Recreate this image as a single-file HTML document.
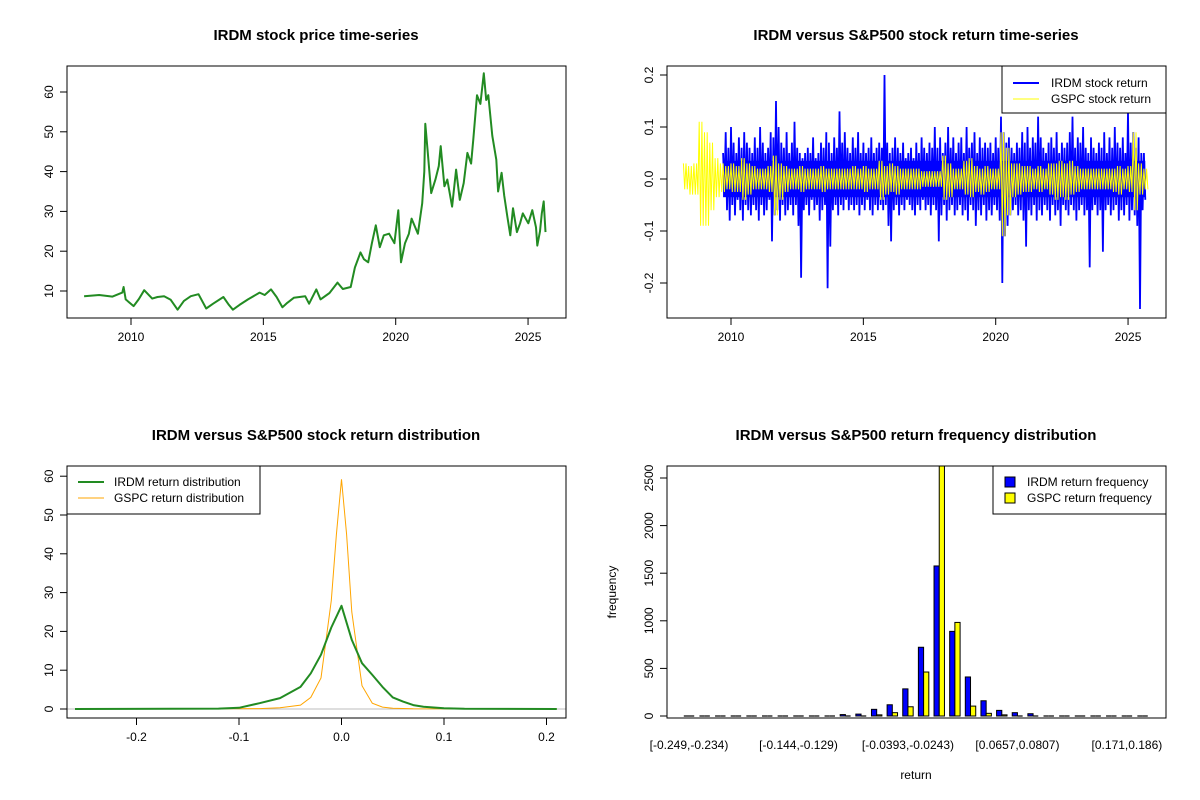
<!DOCTYPE html>
<html><head><meta charset="utf-8"><style>
body{margin:0;background:#fff}
svg{display:block;font-family:"Liberation Sans",Arial,sans-serif}
.t{font-size:12px;fill:#000}
.h{font-size:15px;font-weight:bold;fill:#000}
</style></head><body>
<svg id="c" width="1200" height="800" viewBox="0 0 1200 800">
<rect width="1200" height="800" fill="#fff"/>
</svg>
<script>
// ---- price data (year, price)
const priceYears=[2008.23,2008.8,2009.3,2009.67,2009.72,2009.8,2010.1,2010.3,2010.5,2010.8,2011.0,2011.25,2011.5,2011.76,2012.0,2012.26,2012.55,2012.84,2013.1,2013.49,2013.7,2013.85,2014.1,2014.42,2014.86,2015.05,2015.29,2015.5,2015.72,2015.9,2016.15,2016.58,2016.73,2017.0,2017.16,2017.5,2017.8,2018.0,2018.3,2018.46,2018.67,2018.8,2018.96,2019.1,2019.25,2019.4,2019.55,2019.75,2019.95,2020.1,2020.2,2020.35,2020.5,2020.6,2020.84,2021.0,2021.08,2021.12,2021.2,2021.34,2021.5,2021.63,2021.7,2021.84,2021.95,2022.13,2022.28,2022.42,2022.57,2022.71,2022.85,2022.93,2023.07,2023.2,2023.33,2023.42,2023.5,2023.65,2023.8,2023.87,2024.0,2024.1,2024.22,2024.33,2024.43,2024.58,2024.7,2024.8,2025.01,2025.16,2025.3,2025.35,2025.45,2025.52,2025.59,2025.66];
const priceValues=[8.7,9.0,8.6,9.6,11,7.9,6.2,8,10.2,8.1,8.5,8.7,7.8,5.3,7.5,8.7,9.2,5.6,6.8,8.5,6.5,5.3,6.5,7.9,9.6,9,10.4,8.5,5.9,7,8.3,8.7,6.8,10.4,7.9,9.5,12.1,10.5,11,15.9,19.7,18,17.2,22,26.5,21,24,24.4,22,30.3,17.2,22,24.4,28.2,24.4,32,40,52,45.6,34.6,38,41.4,46.4,36.3,38,31.2,40.5,32.9,37.1,44.7,42,48.1,59.2,57,64.7,58,59.2,49,43,35,39.7,34,28.6,24,30.8,24.8,27,29.5,27,30.3,26,21.4,25,29.5,32.5,24.8];
// ---- returns: IRDM hi/lo per 0.1yr from 2009.7
const irdmHi=[.05,.09,.06,.10,.07,.05,.08,.06,.09,.07,.06,.05,.08,.06,.10,.07,.05,.06,.09,.08,.15,.10,.07,.06,.09,.05,.07,.11,.06,.05,.04,.05,.06,.05,.08,.04,.05,.07,.06,.09,.07,.05,.08,.06,.13,.07,.09,.06,.05,.08,.06,.09,.05,.07,.05,.06,.08,.05,.06,.07,.06,.20,.07,.05,.06,.08,.06,.05,.07,.04,.05,.06,.04,.07,.05,.08,.06,.05,.07,.06,.10,.06,.08,.05,.07,.10,.06,.08,.05,.07,.08,.05,.10,.06,.07,.09,.05,.08,.06,.07,.06,.07,.05,.08,.06,.12,.09,.07,.08,.06,.05,.07,.06,.09,.07,.10,.06,.08,.07,.12,.08,.06,.05,.07,.08,.06,.09,.05,.07,.06,.07,.09,.12,.06,.08,.07,.10,.06,.05,.08,.06,.05,.07,.06,.09,.05,.08,.06,.10,.07,.06,.08,.05,.13,.07,.09,.06,.08,.05,.05];
const irdmLo=[-.03,-.06,-.08,-.05,-.07,-.04,-.06,-.08,-.05,-.06,-.07,-.05,-.06,-.08,-.05,-.07,-.06,-.04,-.12,-.07,-.06,-.08,-.05,-.07,-.06,-.05,-.07,-.05,-.09,-.19,-.06,-.05,-.07,-.04,-.06,-.05,-.08,-.06,-.05,-.21,-.13,-.06,-.05,-.07,-.05,-.06,-.04,-.06,-.05,-.06,-.05,-.07,-.05,-.06,-.04,-.06,-.07,-.05,-.06,-.05,-.06,-.05,-.09,-.12,-.06,-.05,-.07,-.05,-.06,-.04,-.05,-.06,-.07,-.05,-.06,-.04,-.06,-.05,-.07,-.05,-.06,-.12,-.07,-.05,-.08,-.06,-.05,-.07,-.06,-.05,-.07,-.06,-.08,-.05,-.06,-.09,-.06,-.07,-.05,-.08,-.06,-.07,-.05,-.06,-.08,-.20,-.11,-.09,-.07,-.06,-.05,-.07,-.06,-.08,-.13,-.06,-.07,-.05,-.08,-.06,-.07,-.05,-.06,-.08,-.05,-.07,-.06,-.09,-.05,-.06,-.07,-.05,-.06,-.08,-.06,-.05,-.07,-.06,-.17,-.06,-.05,-.07,-.06,-.14,-.06,-.05,-.07,-.06,-.05,-.08,-.06,-.07,-.05,-.08,-.06,-.07,-.09,-.25,-.06,-.04];
const irdmCore=0.035;
// GSPC hi/lo per 0.2yr from 2008.2
const gspcHi=[.03,.025,.03,.11,.09,.07,.04,.03,.025,.03,.025,.04,.03,.025,.02,.02,.025,.045,.03,.025,.02,.02,.025,.02,.02,.02,.025,.02,.02,.02,.02,.02,.025,.02,.025,.02,.02,.035,.025,.03,.025,.02,.02,.02,.02,.015,.015,.015,.015,.045,.03,.02,.02,.035,.04,.025,.02,.025,.02,.02,.09,.06,.03,.03,.025,.025,.02,.025,.02,.03,.03,.035,.03,.035,.025,.02,.02,.02,.02,.02,.02,.02,.025,.02,.025,.09,.03,.02];
const gspcLo=[-.02,-.03,-.03,-.09,-.09,-.06,-.035,-.025,-.02,-.025,-.025,-.04,-.03,-.02,-.02,-.02,-.025,-.07,-.04,-.025,-.02,-.02,-.025,-.02,-.02,-.02,-.025,-.02,-.02,-.02,-.02,-.02,-.02,-.02,-.025,-.02,-.02,-.04,-.03,-.025,-.03,-.02,-.02,-.02,-.02,-.015,-.015,-.015,-.015,-.04,-.035,-.02,-.02,-.03,-.035,-.025,-.03,-.025,-.02,-.02,-.11,-.07,-.035,-.03,-.025,-.025,-.02,-.025,-.02,-.03,-.04,-.035,-.04,-.03,-.025,-.02,-.02,-.02,-.02,-.02,-.02,-.025,-.03,-.02,-.025,-.06,-.03,-.02];
// ---- density
const densX=[-0.26,-0.12,-0.1,-0.08,-0.06,-0.04,-0.03,-0.02,-0.01,0,0.01,0.02,0.03,0.04,0.05,0.06,0.07,0.08,0.1,0.12,0.21];
const densIRDM=[0,0.1,0.3,1.5,2.8,5.7,9.2,14,21,26.6,17.8,11.8,8.8,5.7,3,1.9,1,0.6,0.2,0.05,0];
const densGX=[-0.26,-0.08,-0.06,-0.04,-0.03,-0.02,-0.01,-0.005,0,0.005,0.01,0.02,0.03,0.04,0.05,0.07,0.21];
const densGSPC=[0,0.1,0.3,1,3,8,28,45,59.2,45,25,6,1.5,0.5,0.2,0.05,0];
// ---- histogram
const histLabels=["[-0.249,-0.234)","[-0.144,-0.129)","[-0.0393,-0.0243)","[0.0657,0.0807)","[0.171,0.186)"];
const histLabelIdx=[0,7,14,21,28];
const histIRDM=[1,0,0,0,0,0,0,0,8,5,15,20,70,118,285,722,1576,889,410,160,59,35,24,10,8,3,5,2,1,1];
const histGSPC=[0,0,0,0,0,0,0,0,2,2,8,8,12,35,97,462,2900,983,104,28,12,10,8,5,3,1,2,1,0,0];

const NS="http://www.w3.org/2000/svg";
const svg=document.getElementById('c');
function mk(tag,attrs,parent){const e=document.createElementNS(NS,tag);for(const k in attrs)e.setAttribute(k,attrs[k]);(parent||svg).appendChild(e);return e;}
function txt(s,x,y,cls,anchor,rot,parent){const e=mk('text',{x:x,y:y,class:cls,'text-anchor':anchor||'middle'},parent);if(rot)e.setAttribute('transform','rotate(-90 '+x+' '+y+')');e.textContent=s;return e;}
function lin(x1,y1,x2,y2,parent){return mk('line',{x1:x1,y1:y1,x2:x2,y2:y2,stroke:'#000','stroke-width':1},parent);}
function frame(x,y,w,h,parent){return mk('rect',{x:x,y:y,width:w,height:h,fill:'none',stroke:'#000','stroke-width':1},parent);}
function xAxis(vals,labels,sx,yb,parent){lin(sx(vals[0]),yb,sx(vals[vals.length-1]),yb,parent);vals.forEach((v,i)=>{lin(sx(v),yb,sx(v),yb+7,parent);txt(labels[i],sx(v),yb+23,'t','middle',false,parent);});}
function yAxis(vals,labels,sy,xl,parent){lin(xl,sy(vals[0]),xl,sy(vals[vals.length-1]),parent);vals.forEach((v,i)=>{lin(xl-7,sy(v),xl,sy(v),parent);txt(labels[i],xl-14,sy(v),'t','middle',true,parent);});}

// ===== Panel 1: price
{
const g=mk('g',{});
const sx=v=>131+(v-2010)*26.47, sy=v=>291-(v-10)*3.98;
txt('IRDM stock price time-series',316,40,'h','middle',false,g);
const pts=priceYears.map((t,i)=>sx(t).toFixed(1)+','+sy(priceValues[i]).toFixed(1)).join(' ');
const pl=mk('polyline',{points:pts,fill:'none',stroke:'#228B22','stroke-width':2,'stroke-linejoin':'round'},g);

frame(67,66,499,252,g);
xAxis([2010,2015,2020,2025],['2010','2015','2020','2025'],sx,318,g);
yAxis([10,20,30,40,50,60],['10','20','30','40','50','60'],sy,67,g);
}
// ===== Panel 2: returns
{
const g=mk('g',{});
const sx=v=>731+(v-2010)*26.47, sy=v=>179-v*520;
txt('IRDM versus S&P500 stock return time-series',916,40,'h','middle',false,g);
const t0=2009.7,t1=2009.7+0.1*(irdmHi.length-1)+0.05;
const core=mk('rect',{x:sx(t0),y:sy(irdmCore),width:sx(t1)-sx(t0),height:sy(-irdmCore)-sy(irdmCore),fill:'#0000FF'},g);

let p=[];
irdmHi.forEach((h,i)=>{const t=2009.7+0.1*i;p.push(sx(t).toFixed(1)+','+sy(h).toFixed(1));p.push(sx(t+0.05).toFixed(1)+','+sy(irdmLo[i]).toFixed(1));});
const l1=mk('polyline',{points:p.join(' '),fill:'none',stroke:'#0000FF','stroke-width':1.8},g);

p=[];
gspcHi.forEach((h,i)=>{const t=2008.2+0.2*i;[0,0.1].forEach(o=>{p.push(sx(t+o).toFixed(1)+','+sy(h).toFixed(1));p.push(sx(t+o+0.05).toFixed(1)+','+sy(gspcLo[i]).toFixed(1));});});
const l2=mk('polyline',{points:p.join(' '),fill:'none',stroke:'#FFFF00','stroke-width':1},g);

frame(667,66,499,252,g);
xAxis([2010,2015,2020,2025],['2010','2015','2020','2025'],sx,318,g);
yAxis([-0.2,-0.1,0,0.1,0.2],['-0.2','-0.1','0.0','0.1','0.2'],sy,667,g);
const lg=mk('g',{},g);
mk('rect',{x:1002,y:66,width:164,height:47,fill:'#fff',stroke:'#000'},lg);
mk('line',{x1:1013,y1:83,x2:1039,y2:83,stroke:'#0000FF','stroke-width':2},lg);
mk('line',{x1:1013,y1:99,x2:1039,y2:99,stroke:'#FFFF00','stroke-width':1},lg);
txt('IRDM stock return',1051,87,'t','start',false,lg);
txt('GSPC stock return',1051,103,'t','start',false,lg);
}
// ===== Panel 3: density
{
const g=mk('g',{});
const sx=v=>341.5+v*1025, sy=v=>709-v*3.88;
txt('IRDM versus S&P500 stock return distribution',316,440,'h','middle',false,g);
lin(67,sy(0),566,sy(0),g).setAttribute('stroke','#bebebe');
const pg=mk('polyline',{points:densGX.map((x,i)=>sx(x).toFixed(1)+','+sy(densGSPC[i]).toFixed(1)).join(' '),fill:'none',stroke:'#FFA500','stroke-width':1},g);

const pi=mk('polyline',{points:densX.map((x,i)=>sx(x).toFixed(1)+','+sy(densIRDM[i]).toFixed(1)).join(' '),fill:'none',stroke:'#228B22','stroke-width':2,'stroke-linejoin':'round'},g);

frame(67,466,499,252,g);
xAxis([-0.2,-0.1,0,0.1,0.2],['-0.2','-0.1','0.0','0.1','0.2'],sx,718,g);
yAxis([0,10,20,30,40,50,60],['0','10','20','30','40','50','60'],sy,67,g);
const lg=mk('g',{},g);
mk('rect',{x:67,y:466,width:193,height:48,fill:'#fff',stroke:'#000'},lg);
mk('line',{x1:78,y1:482,x2:104,y2:482,stroke:'#228B22','stroke-width':2},lg);
mk('line',{x1:78,y1:498,x2:104,y2:498,stroke:'#FFA500','stroke-width':1},lg);
txt('IRDM return distribution',114,486,'t','start',false,lg);
txt('GSPC return distribution',114,502,'t','start',false,lg);
}
// ===== Panel 4: histogram
{
const g=mk('g',{});
const step=15.64, cx=i=>689+i*step, u=step/3, sy=v=>716-v*0.0952;
txt('IRDM versus S&P500 return frequency distribution',916,440,'h','middle',false,g);
const defs=mk('defs',{},g);
const cp=mk('clipPath',{id:'hc'},defs);
mk('rect',{x:667,y:466,width:499,height:252},cp);
const bg=mk('g',{'clip-path':'url(#hc)'},g);
function bar(x,v,color){
  const h=sy(0)-sy(v);
  if(h<1){const l=lin(x,sy(0),x+u,sy(0),bg);l.setAttribute('stroke-width',1.2);return l;}
  return mk('rect',{x:x,y:sy(v),width:u,height:h,fill:color,stroke:'#000','stroke-width':1},bg);
}
histIRDM.forEach((v,i)=>{
  const b=bar(cx(i)-u,v,'#0000FF');
  
  const c=bar(cx(i),histGSPC[i],'#FFFF00');
  
});
frame(667,466,499,252,g);
histLabelIdx.forEach((k,j)=>txt(histLabels[j],cx(k),749,'t','middle',false,g));
yAxis([0,500,1000,1500,2000,2500],['0','500','1000','1500','2000','2500'],sy,667,g);
txt('return',916,779,'t','middle',false,g);
txt('frequency',616,592,'t','middle',true,g);
const lg=mk('g',{},g);
mk('rect',{x:993,y:466,width:173,height:48,fill:'#fff',stroke:'#000'},lg);
mk('rect',{x:1005,y:477,width:10,height:10,fill:'#0000FF',stroke:'#000'},lg);
mk('rect',{x:1005,y:493,width:10,height:10,fill:'#FFFF00',stroke:'#000'},lg);
txt('IRDM return frequency',1027,486,'t','start',false,lg);
txt('GSPC return frequency',1027,502,'t','start',false,lg);
}
</script>
</body></html>
